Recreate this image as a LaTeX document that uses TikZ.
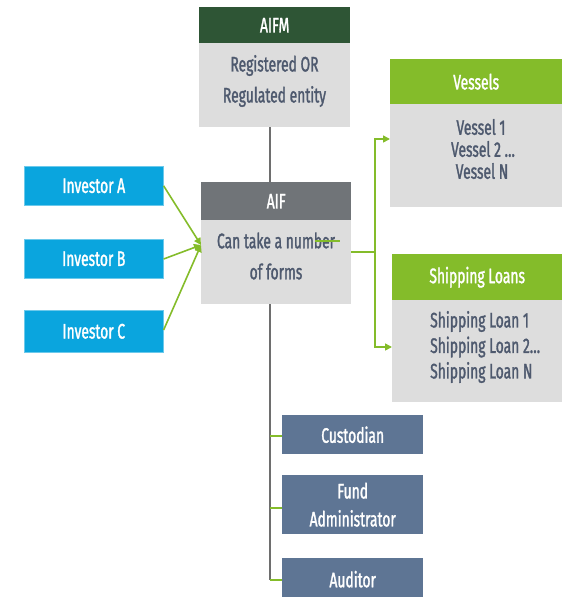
\documentclass[tikz,border=0pt]{standalone}
\usepackage{fontspec}
\setmainfont{Fira Sans}[FakeStretch=0.66, FakeBold=1.4]
\usetikzlibrary{arrows.meta}
\definecolor{aifmgreen}{HTML}{2E5535}
\definecolor{boxgray}{HTML}{DDDDDD}
\definecolor{inktext}{HTML}{4E596E}
\definecolor{aifgray}{HTML}{707478}
\definecolor{invblue}{HTML}{0AA5DE}
\definecolor{leafgreen}{HTML}{84BC2A}
\definecolor{svcblue}{HTML}{5E7594}
\definecolor{linegray}{HTML}{6E6E6E}
\tikzset{
  hdr/.style={anchor=north west, inner sep=0pt, text=white, font=\fontsize{21}{22}\selectfont},
  bodybox/.style={anchor=north west, inner sep=0pt, fill=boxgray},
  bodytext/.style={inner sep=0pt, text=inktext, font=\fontsize{21}{24}\selectfont},
  invbox/.style={anchor=north west, inner sep=0pt, fill=invblue, draw=invblue!60!white, line width=0.6pt,
    text=white, minimum width=139pt, font=\fontsize{21}{22}\selectfont},
  svcbox/.style={anchor=north west, inner sep=0pt, fill=svcblue, text=white, minimum width=141pt,
    align=center, font=\fontsize{21}{28}\selectfont},
  feed/.style={draw=leafgreen, line width=1.6pt, -{Triangle[length=7pt,width=7pt]}},
  gline/.style={draw=leafgreen, line width=1.6pt},
  trunk/.style={draw=linegray, line width=1.4pt},
}
\begin{document}
\begin{tikzpicture}[x=1pt, y=-1pt]
\useasboundingbox (0,0) rectangle (562,597);

% AIFM
\node[hdr, fill=aifmgreen, minimum width=151pt, minimum height=36pt] (aifmh) at (199,7) {AIFM};
\node[bodybox, minimum width=151pt, minimum height=84pt] (aifmb) at (199,43) {};
\node[bodytext, align=center, font=\fontsize{21}{31}\selectfont] (aifmt) at (274.5,81) {Registered OR\\Regulated entity};

% AIF
\node[hdr, fill=aifgray, minimum width=150pt, minimum height=38pt] (aifh) at (201,182) {AIF};
\node[bodybox, minimum width=150pt, minimum height=84pt] (aifb) at (201,220) {};
\node[bodytext, align=center, font=\fontsize{21}{31}\selectfont] (aift) at (276,256) {Can take a number\\of forms};

% Investors
\node[invbox, minimum height=39pt] (inva) at (24,166) {Investor A};
\node[invbox, minimum height=39pt] (invb) at (24,239) {Investor B};
\node[invbox, minimum height=42pt] (invc) at (24,310) {Investor C};

% Vessels
\node[hdr, fill=leafgreen, minimum width=172pt, minimum height=45pt] (vesh) at (390,59) {Vessels};
\node[bodybox, minimum width=172pt, minimum height=103pt] (vesb) at (390,104) {};
\node[bodytext, align=center, font=\fontsize{21}{22}\selectfont] (vest) at (481,149) {Vessel 1\\\hspace*{4pt}Vessel 2 \dots\\\hspace*{2pt}Vessel N};

% Shipping loans
\node[hdr, fill=leafgreen, minimum width=170pt, minimum height=46pt] (loanh) at (392,254) {Shipping Loans};
\node[bodybox, minimum width=170pt, minimum height=102pt] (loanb) at (392,300) {};
\node[bodytext, align=left, anchor=west, font=\fontsize{21}{25.5}\selectfont] (loant) at (430,347) {Shipping Loan 1\\Shipping Loan 2\dots\\Shipping Loan N};

% Service providers
\node[svcbox, minimum height=39pt] (cust) at (282,415) {Custodian};
\node[svcbox, minimum height=59pt] (admin) at (282,475) {Fund\\Administrator};
\node[svcbox, minimum height=42pt] (audit) at (282,558) {Auditor};

% Grey spine
\coordinate (aifmfoot) at (270,127);
\coordinate (aiftop) at (270,182);
\coordinate (aiffoot) at (270,304);
\coordinate (spineend) at (270,580);
\draw[trunk] (aifmfoot) -- (aiftop);
\draw[trunk] (aiffoot) -- (spineend);
\draw[gline] (cust.west |- 0,436) -- (270,436);
\draw[gline] (admin.west |- 0,508) -- (270,508);
\draw[gline] (audit.west |- 0,580) -- (spineend);

% Investor feeds
\coordinate (aifin) at (201,245);
\draw[feed] (inva.east) -- (aifin);
\draw[feed] (invb.east |- 0,259) -- (aifin);
\draw[feed] (invc.east |- 0,330) -- (aifin);

% Holdings split
\coordinate (aifout) at (351,252);
\coordinate (split) at (375,252);
\draw[gline] (315,241) -- (340,241);
\draw[gline] (aifout) -- (split);
\draw[feed] (split) |- (vesb.west |- 0,139);
\draw[feed] (split) |- (loanb.west |- 0,347);
\end{tikzpicture}
\end{document}
